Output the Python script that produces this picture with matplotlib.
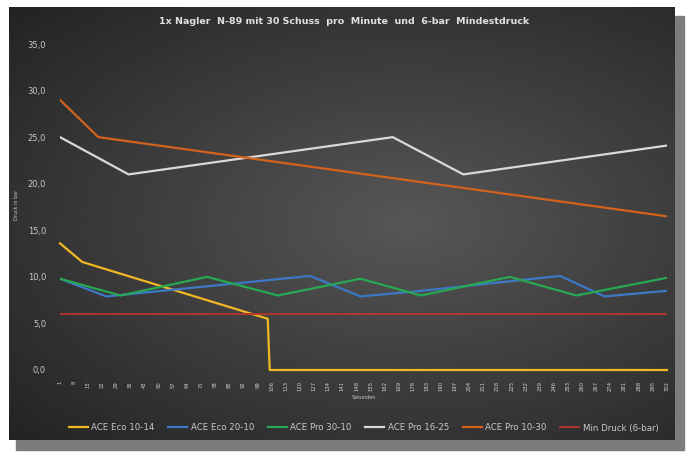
import numpy as np
import matplotlib
matplotlib.use("Agg")
import matplotlib.pyplot as plt
from matplotlib.patches import Rectangle

eco_10_14_x = [1, 12, 104, 105, 302]
eco_10_14_y = [13.6, 11.6, 5.5, 0.0, 0.0]
eco_20_10_x = [1, 24, 125, 150, 180, 249, 271, 302]
eco_20_10_y = [9.8, 7.9, 10.1, 7.9, 8.5, 10.1, 7.9, 8.5]
pro_30_10_x = [1, 31, 74, 109, 150, 180, 224, 257, 302]
pro_30_10_y = [9.8, 8.0, 10.0, 8.0, 9.8, 8.0, 10.0, 8.0, 9.9]
pro_16_25_x = [1, 35, 166, 201, 302]
pro_16_25_y = [25.0, 21.0, 25.0, 21.0, 24.1]
pro_10_30_x = [1, 20, 302]
pro_10_30_y = [29.0, 25.0, 16.5]
min_druck_x = [1, 302]
min_druck_y = [6.0, 6.0]

x_ticks = list(range(1, 303, 7))
y_ticks = [0, 5, 10, 15, 20, 25, 30, 35]

W, H = 689, 458
fig = plt.figure(figsize=(W / 100, H / 100), dpi=100)
fig.patch.set_facecolor("white")

# shadow + dark panel
bg = fig.add_axes([0, 0, 1, 1])
bg.set_xlim(0, W)
bg.set_ylim(H, 0)
bg.axis("off")
bg.add_patch(Rectangle((16, 16), 668, 434, color="#7d7b7c", zorder=0))
gx, gy = np.meshgrid(np.linspace(0, 1, 300), np.linspace(0, 1, 200))
r = np.sqrt(((gx - 0.6) / 0.9) ** 2 + ((gy - 0.5) / 0.8) ** 2)
shade = np.clip(0.34 - 0.22 * r, 0.13, 0.34)
bg.imshow(shade, cmap="gray", vmin=0, vmax=1, extent=(9, 675, 440, 7),
          aspect="auto", zorder=1, interpolation="bilinear")

ax = fig.add_axes([60 / W, 1 - 370 / H, 607 / W, 326 / H])
ax.patch.set_alpha(0)
for s in ax.spines.values():
    s.set_visible(False)

lw = 1.6
ax.plot(eco_10_14_x, eco_10_14_y, color="#f2b824", lw=lw, label="ACE Eco 10-14",
        clip_on=False)
ax.plot(eco_20_10_x, eco_20_10_y, color="#3d78c4", lw=lw, label="ACE Eco 20-10")
ax.plot(pro_30_10_x, pro_30_10_y, color="#27a852", lw=lw, label="ACE Pro 30-10")
ax.plot(pro_16_25_x, pro_16_25_y, color="#d9d9d9", lw=lw, label="ACE Pro 16-25")
ax.plot(pro_10_30_x, pro_10_30_y, color="#d2621e", lw=lw, label="ACE Pro 10-30")
ax.plot(min_druck_x, min_druck_y, color="#b8352c", lw=1.3, label="Min Druck (6-bar)")

ax.set_xlim(1, 302)
ax.set_ylim(0, 35)
ax.set_yticks(y_ticks)
ax.set_yticklabels([f"{v:.1f}".replace(".", ",") for v in y_ticks],
                   fontsize=6, color="#c8c8c8")
ax.set_xticks(x_ticks)
ax.set_xticklabels([str(v) for v in x_ticks], rotation=90, fontsize=3.8,
                   color="#d0d0d0")
ax.tick_params(length=0, pad=8)
ax.tick_params(axis="y", pad=10)
ax.set_xlabel("Sekunden", fontsize=3.5, color="#c8c8c8", labelpad=3)
fig.text(16 / W, 1 - 205 / H, "Druck in bar", rotation=90, ha="center",
         va="center", fontsize=3.5, color="#c8c8c8")

fig.text(0.5, 1 - 22 / H,
         "1x Nagler  N-89 mit 30 Schuss  pro  Minute  und  6-bar  Mindestdruck",
         ha="center", va="center", fontsize=6.8, fontweight="bold", color="#e0e0e0")

leg = ax.legend(loc="center", bbox_to_anchor=(0.5, (370 - 428) / 326), ncol=6,
                frameon=False, fontsize=6.2, handlelength=2.2, columnspacing=1.6,
                handletextpad=0.4)
for t in leg.get_texts():
    t.set_color("#c8c8c8")

fig.savefig("out.png", dpi=100, facecolor=fig.get_facecolor())
